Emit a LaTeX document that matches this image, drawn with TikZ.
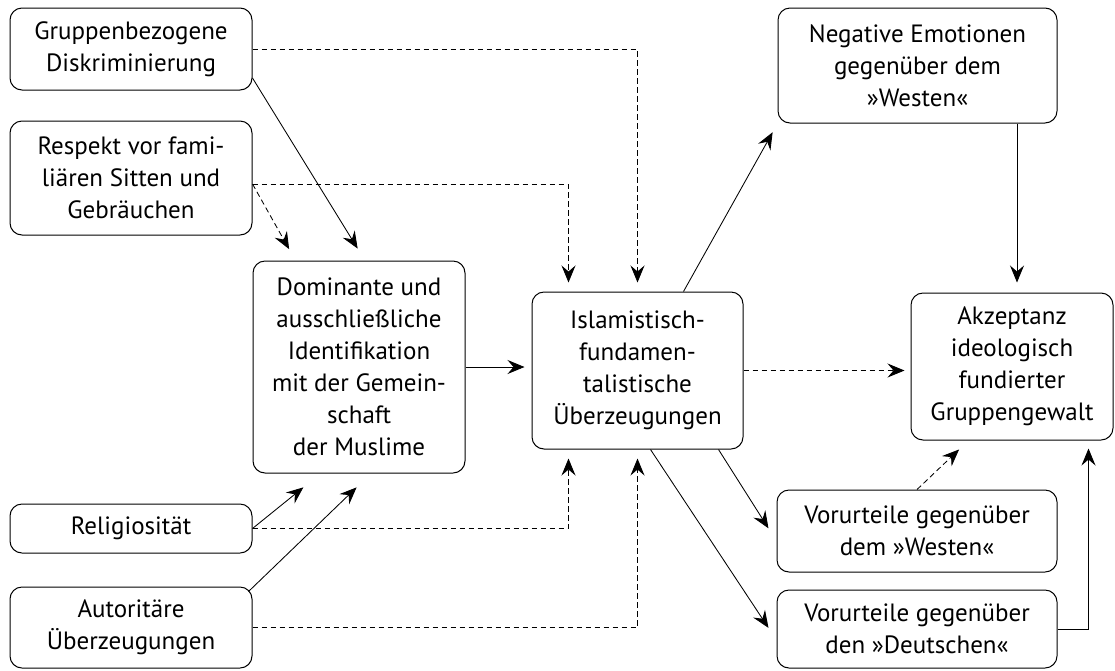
\documentclass[tikz,border=0pt]{standalone}
\usepackage{fontspec}
\setmainfont{PT Sans}
\usetikzlibrary{arrows.meta,calc}
\tikzset{
  box/.style={draw, rounded corners=12pt, line width=1pt, align=center, inner sep=0pt,
    font=\fontsize{25}{32}\selectfont},
  arr/.style={-{Stealth[length=17pt,width=14pt,inset=6pt]}, line width=0.85pt, shorten >=10pt},
  dsh/.style={dash pattern=on 5.5pt off 3.5pt},
}
\begin{document}
\begin{tikzpicture}[x=1pt,y=-1pt]
\useasboundingbox (0,0) rectangle (1115,670);
% nodes
\node[box, minimum width=242pt, minimum height=82pt]  (G)   at (131,49)    {Gruppenbezogene\\Diskriminierung};
\node[box, minimum width=242pt, minimum height=114pt] (R)   at (131,178)   {Respekt vor fami-\\liären Sitten und\\Gebräuchen};
\node[box, minimum width=212pt, minimum height=212pt] (D)   at (359,367)   {Dominante und\\ausschließliche\\Identifikation\\mit der Gemein-\\schaft\\der Muslime};
\node[box, minimum width=211pt, minimum height=157pt] (I)   at (637.5,370.5) {Islamistisch-\\fundamen-\\talistische\\Überzeugungen};
\node[box, minimum width=279pt, minimum height=115pt] (N)   at (917.5,65.5) {Negative Emotionen\\gegenüber dem\\»Westen«};
\node[box, minimum width=202pt, minimum height=147pt] (A)   at (1012,366.5) {Akzeptanz\\ideologisch\\fundierter\\Gruppengewalt};
\node[box, minimum width=242pt, minimum height=49pt]  (Rel) at (131,528.5) {Religiosität};
\node[box, minimum width=242pt, minimum height=81pt]  (Aut) at (131,627.5) {Autoritäre\\Überzeugungen};
\node[box, minimum width=280pt, minimum height=82pt]  (VW)  at (917,531)   {Vorurteile gegenüber\\dem »Westen«};
\node[box, minimum width=280pt, minimum height=78pt]  (VD)  at (917,629)   {Vorurteile gegenüber\\den »Deutschen«};
% connectors
\draw[arr, shorten >=14pt] ($(G.east)+(0,29)$) -- ($(D.north)+(6,0)$);
\draw[arr, dsh, shorten >=13pt] ($(R.east)+(0,6)$) -- ($(D.north west)+(43,0)$);
\draw[arr, dsh, shorten >=9pt] (G.east) -| (I.north);
\draw[arr, dsh, shorten >=9pt] ($(R.east)+(0,6)$) -| ($(I.north west)+(37,0)$);
\draw[arr, dsh, shorten >=9pt] (Rel.east) -| ($(I.south west)+(37,0)$);
\draw[arr, dsh, shorten >=9pt] (Aut.east) -| (I.south);
\draw[arr, shorten >=7pt] (D.east) -- (D.east -| I.west);
\draw[arr, dsh, shorten >=6pt] (I.east) -- (I.east -| A.west);
\draw[arr, shorten >=22pt] (Rel.east) -- ($(D.south west)+(68,0)$);
\draw[arr, shorten >=20pt] ($(Aut.north east)+(-4,5)$) -- ($(D.south)+(12,0)$);
\draw[arr, shorten >=10pt] ($(I.north east)+(-60,0)$) -- (N.south west);
\draw[arr, shorten >=15pt] ($(I.south west)+(187,0)$) -- ($(VW.west)+(0,10)$);
\draw[arr, shorten >=14.5pt] ($(I.south west)+(119,0)$) -- ($(VD.west)+(0,11)$);
\draw[arr, shorten >=10pt] ($(A.north |- N.south)+(5,0)$) -- ($(A.north)+(5,0)$);
\draw[arr, dsh, shorten >=13pt] (VW.north) -- ($(A.south west)+(58,0)$);
\draw[arr, shorten >=8pt] (VD.east) -| ($(A.south east)+(-25,0)$);
\end{tikzpicture}
\end{document}
